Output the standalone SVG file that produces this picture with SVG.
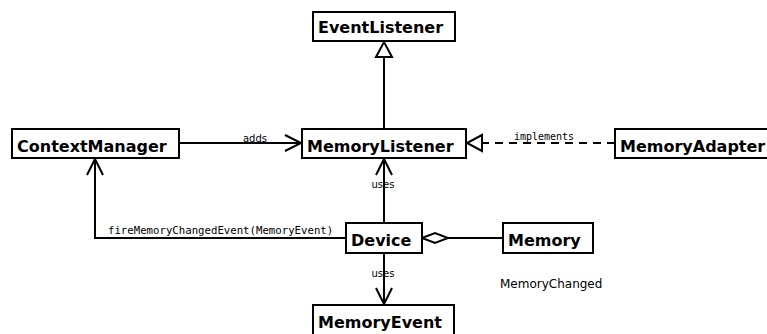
<svg xmlns="http://www.w3.org/2000/svg" width="767" height="334" viewBox="0 0 767 334">
<style>
.box{fill:#fff;stroke:#000;stroke-width:2}
.name{font-family:"DejaVu Sans",sans-serif;font-weight:bold;font-size:16px;fill:#000}
.ln{fill:none;stroke:#000;stroke-width:2}
.dash{stroke-dasharray:8,6}
.lbl{font-family:"DejaVu Sans",sans-serif;font-size:10px;fill:#000}
.mono{font-family:"DejaVu Sans Mono",monospace;font-size:10px;fill:#000}
.note{font-family:"DejaVu Sans",sans-serif;font-size:12px;fill:#000}
</style>
<rect width="767" height="334" fill="#fff"/>
<g id="connectors">
  <!-- MemoryListener generalizes EventListener -->
  <path class="ln" d="M384,129 V57"/>
  <path class="ln" d="M376,57 L384,42 L392,57 Z" fill="#fff"/>
  <!-- adds -->
  <path class="ln" d="M179,143 H301"/>
  <path class="ln" d="M285,135 L301,143 L285,151"/>
  <text class="lbl" x="255" y="141.5" text-anchor="middle">adds</text>
  <!-- implements -->
  <path class="ln dash" d="M615,143 H481"/>
  <path class="ln" d="M482,135 L467,143 L482,151 Z" fill="#fff"/>
  <text class="mono" x="544" y="140" text-anchor="middle">implements</text>
  <!-- Device uses MemoryListener -->
  <path class="ln" d="M384,223 V159"/>
  <path class="ln" d="M376,175 L384,159 L392,175"/>
  <text class="lbl" x="383" y="188" text-anchor="middle">uses</text>
  <!-- fireMemoryChangedEvent -->
  <path class="ln" d="M346,238 H95 V159"/>
  <path class="ln" d="M87,175 L95,159 L103,175"/>
  <text class="mono" x="108" y="234" style="font-size:10.7px">fireMemoryChangedEvent(MemoryEvent)</text>
  <!-- aggregation Device - Memory -->
  <path class="ln" d="M448,238 H503"/>
  <path class="ln" d="M422,238 L435,233 L448,238 L435,243 Z" fill="#fff"/>
  <!-- Device uses MemoryEvent -->
  <path class="ln" d="M384,253 V304"/>
  <path class="ln" d="M376,288 L384,304 L392,288"/>
  <text class="lbl" x="383" y="277" text-anchor="middle">uses</text>
</g>
<g id="EventListener">
  <rect class="box" x="313" y="12" width="142" height="29"/>
  <text class="name" x="318" y="32.5">EventListener</text>
</g>
<g id="ContextManager">
  <rect class="box" x="12" y="129" width="167" height="29"/>
  <text class="name" x="17" y="152">ContextManager</text>
</g>
<g id="MemoryListener">
  <rect class="box" x="302" y="129" width="164" height="29"/>
  <text class="name" x="307" y="152">MemoryListener</text>
</g>
<g id="MemoryAdapter">
  <rect class="box" x="615" y="129" width="160" height="29"/>
  <text class="name" x="620" y="152">MemoryAdapter</text>
</g>
<g id="Device">
  <rect class="box" x="346" y="223" width="76" height="30"/>
  <text class="name" x="351" y="246">Device</text>
</g>
<g id="Memory">
  <rect class="box" x="503" y="223" width="90" height="30"/>
  <text class="name" x="508" y="246">Memory</text>
</g>
<g id="MemoryEvent">
  <rect class="box" x="313" y="305" width="141" height="32"/>
  <text class="name" x="318" y="328">MemoryEvent</text>
</g>
<g id="MemoryChanged">
  <text class="note" x="500" y="288">MemoryChanged</text>
</g>
</svg>
